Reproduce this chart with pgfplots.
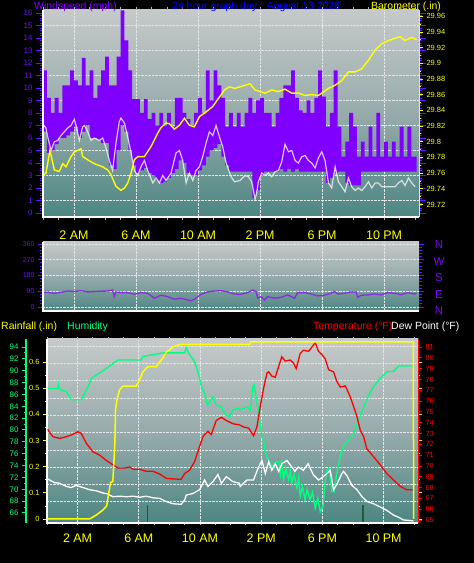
\documentclass[border=0pt]{standalone}
\usepackage{pgfplots}
\usepackage{pgfplotstable}
\pgfplotsset{compat=1.18}
\usepackage{fontspec}
\setmainfont{Liberation Sans}
\definecolor{wpurple}{HTML}{7F00FF}
\definecolor{wtick}{HTML}{6A10FF}
\definecolor{wblue}{HTML}{0000FF}
\definecolor{wyellow}{HTML}{FFFF00}
\definecolor{wgreen}{HTML}{00FF80}
\definecolor{wred}{HTML}{FF0000}
\definecolor{wdir}{HTML}{8A2BE2}
\definecolor{bgtop}{HTML}{C6C9C9}
\definecolor{bgmid}{HTML}{97ABAB}
\definecolor{bgbot}{HTML}{4C8682}
\definecolor{rainbar}{HTML}{1E5A3A}
\definecolor{gridc}{HTML}{E2E6E6}
\definecolor{wavg}{HTML}{F4F4F4}

\pgfplotsset{
  panel/.style={
    scale only axis, anchor=south west,
    axis background/.style={top color=bgtop, bottom color=bgbot, middle color=bgmid},
    axis line style={draw=none},
    tick align=outside,
    /pgf/number format/assume math mode=true,
    xtick={2,6,10,14,18,22},
    minor xtick={0,1,...,24},
    major x tick style={draw=none},
    minor x tick style={gray!60, line width=0.8bp},
    xmajorgrids,
    grid style={densely dotted, gridc, line width=0.7bp},
    after end axis/.code={\draw[white, line width=1.8bp] (rel axis cs:0,1) -- (rel axis cs:0,0) -- (rel axis cs:1,0);},
  },
  xlabs/.style={xticklabels={2 AM,6 AM,10 AM,2 PM,6 PM,10 PM},
    xticklabel style={font=\fontsize{12.5}{13}\selectfont, text=wyellow, yshift=-3bp}},
  overlay axis/.style={scale only axis, anchor=south west, tick align=outside,
    /pgf/number format/assume math mode=true},
}

% wind speed band: L = lower edge, D = height of the band (upper edge = L + D)
\pgfplotstableread{
h L D
0.00 6.5 4.9
0.25 4.8 4.4
0.50 5.0 3.0
0.75 5.5 3.7
1.00 6.0 2.0
1.25 6.0 4.2
1.50 6.2 4.0
1.75 6.5 4.9
2.00 6.9 3.7
2.25 6.0 4.2
2.50 6.5 5.9
2.75 7.0 3.2
3.00 6.0 5.4
3.25 6.0 3.2
3.50 5.8 4.4
3.75 5.6 5.8
4.00 5.6 6.9
4.25 3.8 6.4
4.50 3.5 6.7
4.75 5.0 7.5
5.00 7.0 9.2
5.25 6.5 7.3
5.50 5.0 6.4
5.75 3.8 5.3
6.00 3.2 5.9
6.25 3.4 4.6
6.50 3.6 5.5
6.75 3.2 4.3
7.00 3.0 5.0
7.25 2.6 4.4
7.50 2.4 5.6
7.75 2.5 4.5
8.00 2.8 5.2
8.25 3.2 3.7
8.50 3.5 5.7
8.75 4.2 5.0
9.00 4.0 4.0
9.25 3.2 4.3
9.50 3.0 4.0
9.75 3.0 5.0
10.00 3.4 5.8
10.25 3.8 4.2
10.50 4.5 6.9
10.75 5.0 4.0
11.00 5.2 6.2
11.25 5.5 4.7
11.50 4.5 4.7
11.75 3.8 3.1
12.00 3.3 4.7
12.25 3.3 3.6
12.50 3.3 4.7
12.75 3.3 3.6
13.00 3.3 4.7
13.25 3.3 5.9
13.50 1.2 6.8
13.75 1.8 7.2
14.00 3.0 6.2
14.25 3.3 4.7
14.50 3.3 4.7
14.75 3.3 3.6
15.00 3.3 4.7
15.25 3.5 5.7
15.50 3.3 6.9
15.75 3.5 6.7
16.00 3.3 8.1
16.25 3.5 5.7
16.50 3.3 4.9
16.75 3.3 4.7
17.00 3.3 5.7
17.25 3.3 4.7
17.50 3.3 5.9
17.75 3.3 8.1
18.00 3.3 6.0
18.25 2.4 4.5
18.50 2.8 5.2
18.75 3.2 8.2
19.00 3.3 3.6
19.25 3.3 1.2
19.50 2.4 3.3
19.75 2.2 5.8
20.00 2.2 4.7
20.25 2.2 2.3
20.50 3.3 2.4
20.75 3.3 1.2
21.00 3.3 3.6
21.25 3.3 1.2
21.50 3.3 4.7
21.75 3.3 1.2
22.00 3.3 2.4
22.25 3.3 1.2
22.50 3.3 2.4
22.75 3.3 1.2
23.00 3.3 3.6
23.25 3.3 1.2
23.50 3.3 3.6
23.75 3.3 1.2
24.00 3.3 1.2
24.10 3.3 1.2
}\windtab

\begin{document}%
\begin{tikzpicture}
\fill[black] (0,0) rectangle (474bp,563bp);

% ---------------- top panel: wind speed ----------------
\begin{axis}[panel, xlabs,
  at={(43bp,346bp)}, width=376bp, height=207bp,
  xmin=0, xmax=24.25, ymin=-0.32, ymax=16.24,
  ytick={0,1,...,16}, minor y tick num=4,
  major tick length=7bp, minor tick length=3bp,
  ytick style={wtick, line width=0.8bp},
  yticklabel style={font=\fontsize{8}{9}\selectfont, text=wtick},
  extra y ticks={1,3,5,7,9,11,13,15}, extra y tick labels={},
  extra y tick style={grid=major, tick style={draw=none}},
]
\addplot[draw=none, const plot, stack plots=y, forget plot] table[x=h, y=L] {\windtab};
\addplot[fill=wpurple, draw=none, const plot, stack plots=y] table[x=h, y=D] {\windtab} \closedcycle;
\addplot[wavg, opacity=0.8, line width=1.2bp] coordinates {
(0.06,7.0) (0.19,6.8) (0.30,6.1) (0.52,5.0) (0.73,5.7) (0.95,5.8) (1.16,6.2) (1.38,6.5) (1.59,6.8) (1.81,7.0) (2.02,7.5) (2.13,7.0) (2.34,5.8) (2.56,6.9) (2.67,7.0) (2.88,6.5) (3.10,5.8) (3.31,6.0) (3.63,5.8) (3.85,6.0) (4.06,5.2) (4.28,4.2) (4.49,3.4) (4.71,5.6) (4.92,7.3) (5.03,7.6) (5.25,7.2) (5.46,6.1) (5.68,4.8) (5.89,3.4) (6.11,3.0) (6.32,3.7) (6.54,4.2) (6.75,3.4) (7.08,2.4) (7.29,2.8) (7.51,2.4) (7.72,3.0) (7.94,2.6)
(8.26,3.2) (8.58,4.8) (8.80,5.0) (9.01,4.2) (9.23,2.4) (9.44,3.2) (9.66,2.6) (9.87,3.4) (10.09,3.7) (10.30,4.5) (10.52,5.6) (10.73,6.5) (10.95,6.2) (11.16,7.0) (11.38,6.1) (11.59,5.3) (11.81,4.0) (12.13,2.9) (12.35,2.5)
(12.71,2.6) (13.03,3.0) (13.25,2.9) (13.46,2.5) (13.57,1.8) (13.68,1.1) (13.78,1.6) (13.89,2.5) (14.11,3.2) (14.32,3.0) (14.54,3.2) (14.75,2.9) (14.97,3.3) (15.18,3.4) (15.40,4.1) (15.61,5.5) (15.83,4.9) (16.04,5.0) (16.26,4.2) (16.47,4.0) (16.69,4.5) (16.90,4.6) (17.12,4.2) (17.33,4.0) (17.55,3.6) (17.76,4.4) (17.98,4.9) (18.19,4.2) (18.41,2.4) (18.62,2.0) (18.84,3.7) (19.05,2.5) (19.27,2.1) (19.48,1.7) (19.70,2.8) (19.91,2.1) (20.13,1.8) (20.34,2.0) (20.56,1.8) (20.77,2.1) (20.99,2.5) (21.20,2.0) (21.42,2.4) (21.63,2.4) (21.85,2.1) (22.28,2.1) (22.71,2.1) (22.92,2.4) (23.14,2.6) (23.35,2.2) (23.57,2.8) (23.78,2.4) (24.00,2.1)
};
\end{axis}

\begin{axis}[overlay axis,
  at={(43bp,346bp)}, width=376bp, height=207bp,
  xmin=0, xmax=24.25, ymin=29.704, ymax=29.968,
  axis x line=none, axis y line*=right,
  y axis line style={wyellow, line width=1bp, -},
  ytick={29.72,29.74,29.76,29.78,29.80,29.82,29.84,29.86,29.88,29.90,29.92,29.94,29.96},
  minor y tick num=1, major tick length=4bp, minor tick length=2bp,
  ytick style={wyellow, line width=0.8bp},
  yticklabel style={font=\fontsize{7.5}{8}\selectfont, text=wyellow, /pgf/number format/fixed, /pgf/number format/precision=2},
]
\addplot[wyellow, line width=1.4bp] coordinates {
(0.06,29.758) (0.19,29.760) (0.45,29.789) (0.73,29.764) (1.05,29.762) (1.27,29.772) (1.48,29.768) (1.81,29.781) (2.02,29.787) (2.24,29.789) (2.45,29.791) (2.56,29.781) (2.88,29.777) (3.31,29.772) (3.85,29.768) (4.17,29.764) (4.39,29.758) (4.49,29.753) (4.71,29.743) (5.03,29.738) (5.25,29.741) (5.46,29.747) (5.68,29.760) (5.89,29.777) (6.11,29.781) (6.54,29.781) (6.97,29.794) (7.40,29.811) (7.61,29.818) (7.94,29.824)
(8.15,29.823) (8.47,29.816) (8.80,29.821) (9.12,29.830) (9.44,29.821) (9.76,29.819) (10.09,29.832) (10.52,29.838) (10.95,29.845) (11.38,29.857) (11.70,29.866) (12.02,29.870) (12.39,29.868)
(13.03,29.872) (13.35,29.874) (13.68,29.866) (14.32,29.862) (14.75,29.866) (15.18,29.864) (15.61,29.867) (16.04,29.862) (16.47,29.862) (16.90,29.859) (17.33,29.860) (17.76,29.859) (17.98,29.862) (18.41,29.868) (18.84,29.872) (19.27,29.878) (19.70,29.889) (20.13,29.889) (20.56,29.893) (20.99,29.904) (21.42,29.917) (21.85,29.925) (22.28,29.929) (22.71,29.932) (23.03,29.934) (23.35,29.929) (23.78,29.933) (24.10,29.930)
};
\end{axis}

% ---------------- middle panel: wind direction ----------------
\begin{axis}[panel,
  at={(43bp,252bp)}, width=376bp, height=69bp,
  xmin=0, xmax=24.25, ymin=-23, ymax=371,
  xticklabels={}, minor xtick={},
  ytick={0,90,180,270,360}, minor y tick num=4,
  major tick length=5bp, minor tick length=2.5bp,
  ytick style={wtick, line width=0.8bp},
  yticklabel style={font=\fontsize{7}{8}\selectfont, text=wtick},
  ymajorgrids,
]
\addplot[wdir, line width=1.3bp] coordinates {
(0.06,84) (0.30,84) (0.73,78) (1.16,84) (1.59,91) (2.02,88) (2.45,93) (2.88,86) (3.31,88) (3.74,90) (4.17,91) (4.49,97) (4.60,59) (4.71,85) (5.03,82) (5.46,82) (5.89,72) (6.32,82) (6.75,78) (7.18,50) (7.61,67) (8.04,59) (8.47,44) (8.90,50) (9.33,40) (9.55,36) (9.76,44) (10.19,72) (10.62,86) (11.05,91) (11.48,93) (11.91,86) (12.34,74) (12.77,72) (13.20,82) (13.53,97) (13.74,88) (13.85,50) (14.06,59) (14.28,40) (14.49,59) (14.92,50) (15.35,55) (15.78,69) (16.22,50) (16.43,82) (16.86,82) (17.29,74) (17.72,63) (18.15,67) (18.58,78) (18.80,88) (19.01,74) (19.44,78) (19.87,86) (20.19,85) (20.30,55) (20.52,67) (20.95,69) (21.38,74) (21.81,69) (22.24,82) (22.67,78) (23.10,70) (23.53,82) (23.96,74) (24.10,78)
};
\end{axis}

% ---------------- bottom panel ----------------
\begin{axis}[panel, xlabs,
  at={(47bp,40bp)}, width=371bp, height=184bp,
  xmin=0, xmax=24.25, ymin=-0.0153, ymax=0.688,
  ytick={0,0.1,0.2,0.3,0.4,0.5,0.6}, minor y tick num=1,
  major tick length=4bp, minor tick length=2bp,
  ytick style={wyellow, line width=0.8bp},
  yticklabel style={font=\fontsize{7.5}{8}\selectfont, text=wyellow, /pgf/number format/fixed, /pgf/number format/precision=1},
  extra y ticks={0.066,0.132,0.198,0.264,0.331,0.397,0.463,0.529,0.595,0.661}, extra y tick labels={},
  extra y tick style={grid=major, tick style={draw=none}},
]
\addplot[rainbar, line width=1.3bp] coordinates {(6.55,-0.0153) (6.55,0.053)};
\addplot[rainbar, line width=1.3bp] coordinates {(20.66,-0.0153) (20.66,0.053)};
\end{axis}

\begin{axis}[overlay axis,
  at={(26bp,40bp)}, width=392bp, height=184bp,
  xmin=-1.3725, xmax=24.25, ymin=64.31, ymax=95.35,
  axis x line=none, axis y line*=left,
  y axis line style={wgreen, line width=1.8bp, -},
  ytick={66,68,...,94}, minor y tick num=1, major tick length=4bp, minor tick length=2bp,
  ytick style={wgreen, line width=1bp},
  yticklabel style={font=\fontsize{8}{9}\selectfont, text=wgreen},
]
\addplot[wgreen, line width=1.4bp] coordinates {
(0.06,87.0) (0.71,87.0) (0.75,87.7) (0.80,87.0) (0.93,86.75) (1.26,86.5) (1.59,85.1) (2.24,85.1) (2.46,86.2) (2.68,87.2) (2.89,88.7) (3.22,89.3) (3.55,89.8) (3.88,90.4) (4.20,91.0) (4.64,91.8) (6.16,91.8) (6.27,92.4) (7.60,93.0) (9.00,93.0) (9.10,93.9) (9.30,92.8) (9.65,91.5) (9.87,89.8) (10.10,87.3) (10.30,86.2) (10.50,84.2) (10.70,85.0) (10.85,85.6) (11.06,84.2) (11.40,83.9) (11.60,82.8) (11.93,82.2) (12.15,83.4) (12.48,83.7) (12.63,83.4) (13.07,83.9) (13.30,83.4) (13.46,87.3) (13.55,87.6) (13.68,85.1) (13.83,83.4) (14.05,78.9) (14.16,78.3) (14.27,76.1) (14.49,74.9) (14.70,73.8) (14.92,74.5) (15.14,74.7) (15.25,72.5) (15.35,75.0) (15.46,71.6) (15.60,73.5) (15.79,71.6) (15.90,73.0) (16.00,71.0) (16.15,72.5) (16.33,70.2) (16.45,72.0) (16.55,68.8) (16.70,70.5) (16.87,68.2) (17.00,70.0) (17.20,68.2) (17.35,69.5) (17.53,66.8) (17.70,68.5) (17.86,66.2) (18.04,67.1) (18.19,71.6) (18.30,73.3) (18.47,73.5) (18.62,69.6) (18.77,69.6) (18.95,72.7) (19.17,75.5) (19.38,77.2) (19.71,78.3) (20.00,79.2) (20.37,81.7) (20.70,83.9) (20.90,85.1) (21.10,86.2) (21.35,87.3) (21.78,88.7) (22.20,89.8) (22.65,89.9) (22.98,90.8) (23.96,90.8)
};
\end{axis}

\begin{axis}[overlay axis,
  at={(47bp,40bp)}, width=371bp, height=184bp,
  xmin=0, xmax=24.25, ymin=64.72, ymax=81.74,
  axis x line=none, axis y line*=right,
  y axis line style={wred, line width=1bp, -},
  ytick={65,66,...,81}, major tick length=4bp,
  ytick style={wred, line width=0.8bp},
  yticklabel style={font=\fontsize{7.5}{8}\selectfont, text=wred},
]
\addplot[wred, line width=1.3bp] coordinates {
(0.06,73.4) (0.12,73.2) (0.39,72.7) (0.82,72.55) (1.26,72.7) (1.59,72.86) (2.02,73.16) (2.24,73.0) (2.57,72.1) (3.00,71.3) (3.44,71.0) (3.88,70.5) (4.31,70.1) (4.64,69.8) (5.07,69.8) (5.40,69.9) (5.62,69.7) (6.05,69.7) (6.49,69.5) (6.93,69.5) (7.36,69.25) (7.80,68.85) (8.23,68.8) (8.77,68.76) (9.00,69.3) (9.32,69.6) (9.65,70.4) (9.97,71.8) (10.20,72.7) (10.30,72.9) (10.52,73.2) (10.74,72.9) (11.06,74.2) (11.40,74.5) (11.72,74.2) (12.15,73.9) (12.58,73.8) (12.85,73.6) (13.18,73.5) (13.50,72.8) (13.72,73.6) (13.94,75.5) (14.16,77.2) (14.38,78.6) (14.49,78.7) (14.70,78.3) (14.92,78.2) (15.14,79.2) (15.35,80.1) (15.57,79.7) (15.90,79.8) (16.12,79.5) (16.29,79.0) (16.55,80.4) (16.77,80.7) (17.10,80.6) (17.32,81.0) (17.53,81.4) (17.75,80.6) (17.97,80.3) (18.19,79.9) (18.41,78.9) (18.73,78.7) (18.95,77.8) (19.17,77.3) (19.50,77.4) (19.82,76.4) (20.04,75.5) (20.26,74.55) (20.48,73.3) (20.70,72.7) (20.90,71.6) (21.35,70.85) (21.78,70.1) (22.20,69.3) (22.65,68.7) (23.10,68.1) (23.50,67.8) (24.00,67.8)
};
\addplot[white, line width=1.3bp] coordinates {
(0.06,68.8) (0.17,68.7) (0.50,68.45) (0.82,68.4) (1.26,68.1) (1.59,68.0) (1.90,68.2) (2.35,68.0) (2.78,67.8) (3.22,67.7) (3.65,67.5) (3.98,67.4) (4.31,67.15) (4.74,67.2) (5.18,67.15) (5.62,67.2) (6.05,67.1) (6.49,67.2) (6.93,67.05) (7.36,67.0) (7.80,66.7) (8.23,66.5) (8.77,66.45) (9.00,66.85) (9.10,67.3) (9.54,67.45) (9.97,67.8) (10.30,68.7) (10.52,68.1) (10.85,68.55) (11.17,69.2) (11.40,68.4) (11.72,69.0) (12.15,68.55) (12.58,68.4) (12.63,68.1) (13.07,68.7) (13.50,68.7) (13.83,69.9) (14.05,70.5) (14.27,69.3) (14.49,70.4) (14.70,69.6) (14.92,70.2) (15.14,69.5) (15.35,70.2) (15.68,70.5) (16.00,69.9) (16.20,69.5) (16.42,69.9) (16.75,69.6) (17.07,70.2) (17.40,69.2) (17.75,68.7) (17.97,68.9) (18.30,69.3) (18.51,69.6) (18.73,67.8) (18.95,68.3) (19.28,69.3) (19.38,69.5) (19.60,69.1) (19.93,68.2) (20.26,67.8) (20.59,67.15) (20.92,66.7) (21.35,66.5) (21.78,66.2) (22.20,65.9) (22.65,65.45) (22.98,65.25) (23.30,65.0) (23.75,64.95) (23.96,64.9)
};
\end{axis}

\begin{axis}[overlay axis, hide axis,
  at={(47bp,40bp)}, width=371bp, height=184bp,
  xmin=0, xmax=24.25, ymin=-0.0153, ymax=0.688,
]
\addplot[wyellow, line width=1.5bp] coordinates {
(0.03,0) (2.78,0) (3.22,0.015) (3.65,0.034) (3.90,0.05) (4.04,0.10) (4.15,0.139) (4.30,0.143) (4.37,0.214) (4.44,0.30) (4.48,0.416) (4.57,0.455) (4.74,0.493) (4.96,0.508) (5.83,0.508) (6.05,0.531) (6.27,0.563) (6.60,0.582) (7.14,0.582) (7.36,0.601) (7.58,0.615) (7.80,0.639) (8.00,0.646) (8.23,0.658) (8.67,0.667) (13.25,0.667) (13.30,0.677) (23.95,0.677) (23.96,0)
};
\end{axis}

% ---------------- titles ----------------
\node[anchor=base west, inner sep=0, text=wpurple, font=\fontsize{10.5}{12}\selectfont] at (34bp,553bp) {Windspeed (mph)};
\node[anchor=base west, inner sep=0, text=wblue, font=\fontsize{10.5}{12}\selectfont] at (172bp,553bp) {24 hour graph day : August 13 2026};
\node[anchor=base west, inner sep=0, text=wyellow, font=\fontsize{10.5}{12}\selectfont] at (371bp,553bp) {Barometer (.in)};

\foreach \lab/\yy in {N/318, W/301, S/285, E/268, N/252}
  \node[text=wpurple, font=\fontsize{11.5}{12}\selectfont, inner sep=0] at (439bp,\yy bp) {\lab};

\node[anchor=base west, inner sep=0, text=wyellow, font=\fontsize{10.5}{12}\selectfont] at (1bp,233bp) {Rainfall (.in)};
\node[anchor=base west, inner sep=0, text=wgreen, font=\fontsize{10.5}{12}\selectfont] at (67bp,233bp) {Humidity};
\node[anchor=base west, inner sep=0, text=wred, font=\fontsize{10.5}{12}\selectfont] at (313bp,233bp) {Temperature (°F)};
\node[anchor=base west, inner sep=0, text=white, font=\fontsize{10.5}{12}\selectfont] at (391bp,233bp) {Dew Point (°F)};

\pgfresetboundingbox
\path[use as bounding box] (0,0) rectangle (474bp,563bp);
\end{tikzpicture}%
\end{document}
